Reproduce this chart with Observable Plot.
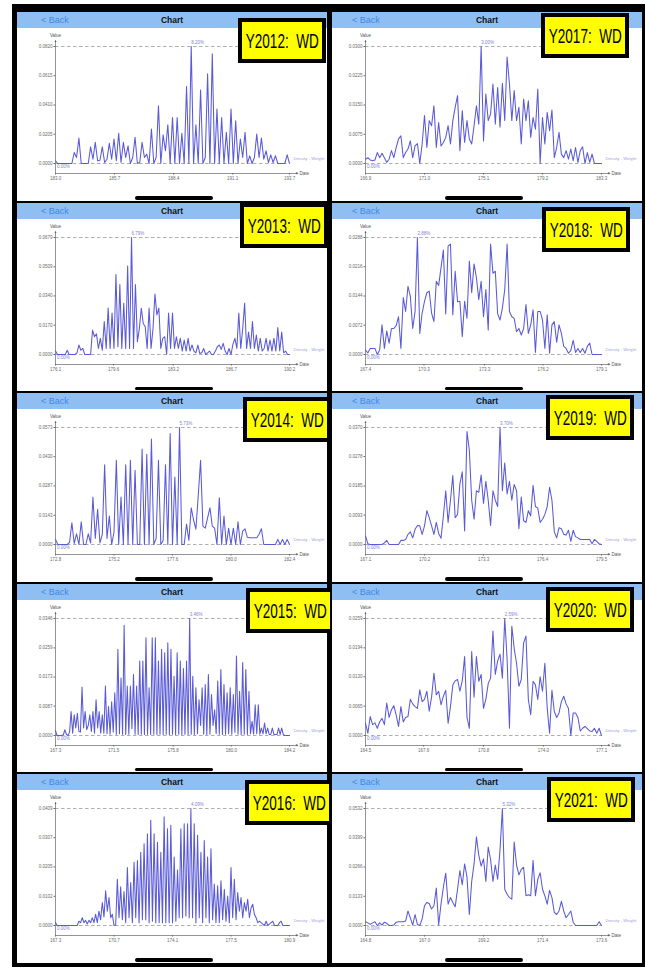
<!DOCTYPE html>
<html><head><meta charset="utf-8">
<script src="https://cdn.jsdelivr.net/npm/d3@7"></script>
<script src="https://cdn.jsdelivr.net/npm/@observablehq/plot@0.6"></script>
<style>
html,body{margin:0;padding:0;background:#fff;}
body{width:646px;height:971px;position:relative;overflow:hidden;font-family:"Liberation Sans",Arial,sans-serif;}
#frame{position:absolute;left:12px;top:4px;width:633px;height:963px;background:#000;}
.panel{position:absolute;width:310px;height:188.5px;background:#fff;overflow:hidden;}
.hdr{position:absolute;left:0;top:0;width:100%;height:16px;background:#8fbff2;}
.back{position:absolute;top:0;line-height:17px;font-size:9px;color:#3f88e8;}
.title{position:absolute;left:0;width:100%;top:0;line-height:17px;text-align:center;font-size:8.5px;font-weight:bold;color:#111;}
.home{position:absolute;top:184px;width:78px;height:3.5px;border-radius:2px;background:#000;}
.tag{position:absolute;width:88px;height:45px;box-sizing:border-box;border:4px solid #000;background:#ffff00;display:flex;align-items:center;justify-content:center;}
.tag span{font-size:20.5px;white-space:pre;transform:scaleX(0.66);color:#000;}
.chart{position:absolute;left:0;top:16px;}
</style></head>
<body>
<div id="frame"></div>
<script>
// ---------------- data ----------------
const years = [2012,2013,2014,2015,2016,2017,2018,2019,2020,2021];
const xTickLabels = [
 ["183.0","185.7","188.4","191.1","193.7"],
 ["176.1","179.6","183.2","186.7","190.2"],
 ["172.8","175.2","177.6","180.0","182.4"],
 ["167.3","171.5","175.8","180.0","184.2"],
 ["167.3","170.7","174.1","177.5","180.9"],
 ["166.9","171.0","175.1","179.2","183.3"],
 ["167.4","170.3","173.3","176.2","179.1"],
 ["167.1","170.2","173.3","176.4","179.5"],
 ["164.5","167.6","170.8","174.0","177.1"],
 ["164.8","167.0","169.2","171.4","173.6"]];
const yTickLabels = [
 ["0.0000","0.0205","0.0410","0.0615","0.0820"],
 ["0.0000","0.0170","0.0340","0.0509","0.0679"],
 ["0.0000","0.0143","0.0287","0.0430","0.0573"],
 ["0.0000","0.0087","0.0173","0.0259","0.0346"],
 ["0.0000","0.0102","0.0205","0.0307","0.0409"],
 ["0.0000","0.0075","0.0150","0.0225","0.0300"],
 ["0.0000","0.0072","0.0144","0.0216","0.0288"],
 ["0.0000","0.0093","0.0185","0.0278","0.0370"],
 ["0.0000","0.0065","0.0130","0.0194","0.0259"],
 ["0.0000","0.0133","0.0266","0.0399","0.0532"]];
const peakLabels = ["8.20%","6.79%","5.73%","3.46%","4.09%","3.00%","2.88%","3.70%","2.59%","5.32%"];

// density in percent, evenly spaced weight samples from first to last tick
const density2012 = [0.19,0,0,0,0,0,0,0,0.77,0.42,1.78,0,0,0,0,1.17,0.3,1.48,0.19,0.23,1.17,0.07,0.3,1.41,0.3,1.71,0.19,2.11,0.07,1.48,0.42,1.24,0,0.42,1.83,0,0.07,1.48,0.42,0.66,0,2.41,0,0.42,4.05,0,2.01,0.89,2.72,0,3.23,0,3.23,0,2.11,0,5.39,0,8.20,0,2.72,0,5.15,0,0.42,6.28,0,7.69,0,3.82,0,3.23,0,2.18,0,3.82,0,3.0,0,1.71,0.42,2.18,0,0.54,0,0.42,2.06,0.42,1.78,0.3,0.89,0.07,0.61,0.07,0.54,0,0,0,0,0.61,0];
const density2013 = [0.2,0,0,0,0,0,0.25,0,0,0,0,0.1,0.55,0.25,0.35,0,0,0,0,1.42,1.03,1.2,0.35,0.94,0.25,1.91,0.35,2.69,0.35,2.4,0.35,4.64,0.45,4.06,0.35,2.98,0.35,5.13,0.35,6.79,0.35,4.06,0.74,1.5,2.69,1.8,1.62,0.35,2.69,0.35,1.5,3.51,2.3,2.69,0.35,0.94,1.03,0,2.4,0.35,2.4,0.35,1.03,0.35,0.94,0.2,0.84,0.2,0.94,0.2,0.55,0.2,0.1,0.55,0.06,0.1,0.35,0,0.1,0.2,0,0,0.2,0.45,0.55,0.3,0.65,0.2,0,0.35,0,0.6,0.94,0.35,2.4,0.35,1.5,2.98,0.35,1.3,0.35,1.91,0.35,1.13,0.2,0.94,0.2,0.35,0.94,0.2,0.84,0.2,0.94,0.2,1.56,0.2,1.3,0.1,0.2,0,0];
const density2014 = [0.25,0,0,0,0,0,0.1,1.06,0.05,0.52,0,1.11,0,0,0.52,0.08,2.32,0.3,1.72,0.08,0.5,3.9,0.3,1.39,0,0.6,4.12,0,2.32,0,3.9,0,4.12,0,3.63,0,0,4.67,0,4.42,0,5.16,0,0.3,4.12,0,0.2,3.9,0,5.43,0,3.31,0,5.73,0,0,1.0,0.2,1.8,1.2,0.75,2.4,4.12,0.9,0.8,1.3,1.8,0.9,0.8,0,2.29,0,1.39,0,0.8,0,0.8,0,1.11,0,0.65,0.77,0.35,0.33,0.33,0.33,0.33,0.5,0.77,0,0,0,0,0,0,0.25,0,0.25,0,0.25,0];
const density2015 = [0.14,0,0,0,0,0.02,0.17,0.03,0,0.1,0.71,0.07,0.61,0.22,0.66,0.12,0.1,1.43,0.22,0.71,0.17,0.3,0.61,0.12,0.71,0.07,1.06,0.22,0.71,0.07,0.61,0.07,
 1.46,0.05,0.86,0.04,1.0,0.1,1.26,0.04,2.55,0.05,1.7,0.04,3.26,0.03,1.46,0.04,1.46,0.2,1.8,0.04,1.46,0.03,2.2,0.04,2.2,0.03,2.89,0.04,1.41,0.03,2.89,0.04,2.89,0.03,2.2,0.04,2.55,0.03,2.45,0.04,2.74,0.03,2.55,0.04,1.75,0.03,2.45,0.04,2.2,0.03,1.98,0.04,2.2,0.03,3.46,0.04,1.75,0.03,1.41,0.05,1.06,0.3,1.41,0.04,1.51,0.03,1.8,0.04,1.21,0.3,0.76,0.05,1.61,0.04,1.95,0.03,1.51,0.04,1.26,0.05,1.41,0.04,1.21,0.1,2.35,0.04,1.31,0.03,2.16,0.04,1.95,0.03,1.31,0.05,0.42,0.04,0.91,0.05,0.91,0.04,
 0.22,0.05,0.37,0.05,0.22,0.03,0.03,0.22,0.03,0.03,0.03,0.22,0.03,0.22,0.03,0,0,0,0];
const density2016 = [0.1,0,0,0,0,0,0,0,0,0,0,0,0,0,0.15,0.1,0.27,0.1,0.18,0.05,0.18,0.1,0.27,0.1,0.39,0.1,0.5,0.2,0.8,0.3,1.21,0.5,0.98,0.27,0.39,0,0.02,1.62,0.27,1.35,0.2,1.19,0.1,2.03,0.27,1.5,0.1,2.21,0.27,2.27,0.1,2.56,0.2,2.86,0.2,3.21,0.1,3.68,0.15,3.21,0.1,2.91,0.1,2.56,0.1,3.8,0.1,3.38,0.1,3.5,0.1,2.39,0.15,1.94,0.27,3.38,0.27,3.56,0.33,3.56,0.27,4.09,0.27,3.56,0.1,3.15,0.27,2.56,0.1,2.97,0.27,2.39,0.1,2.68,0.2,1.45,0.1,1.39,0.1,1.56,0.2,1.27,0.15,1.03,0.1,2.03,0.27,1.62,0.2,1.15,0.5,0.98,0.27,0.8,0.5,0.92,0.27,0.62,0.74,0.39,0.27,0.1,0.15,0.1,0.05,0,0.15,0,0.05,0.1,0.15,0,0,0,0.1,0.15,0,0,0,0,0];
const density2017 = [0.11,0.15,0.09,0.07,0.09,0.28,0.15,0.26,0.15,0.03,0.11,0.33,0.15,0.41,0.63,0.71,0.15,0.28,0.37,0.58,0.15,0.45,0.51,0,0.5,1.23,0.41,1.1,0.97,1.48,0.41,1.05,0.45,0.54,0.67,0.97,0.5,1.1,1.44,1.74,0.33,1.35,0.54,1.1,0.63,0.5,0.97,1.48,1.01,3.0,0.58,1.78,1.1,1.27,2.04,1.01,1.95,0.93,2.06,1.1,2.73,2.04,1.1,1.87,1.1,1.44,0.5,1.65,1.1,1.61,0.67,1.18,0.88,1.91,0,1.18,0.5,1.31,0.84,1.37,0.15,0.41,0.8,0.24,0.15,0.33,0.11,0.37,0.07,0.41,0.03,0.33,0.43,0,0.28,0.03,0.24,0,0,0,0];
const density2018 = [0.11,0.04,0.15,0.15,0.15,0,0.11,0.73,0.15,0.58,0.28,0.64,0.64,0.71,0.93,0.15,1.4,1.06,1.68,1.43,0.64,1.06,2.88,0.52,1.02,1.31,1.52,1.56,1.02,0.81,1.8,1.7,2.14,2.57,1.0,2.67,2.72,0.98,2.05,1.3,1.31,0.44,1.31,0.89,2.3,1.52,2.23,1.89,1.35,1.8,0.93,1.6,0.6,2.72,2.0,2.05,1.0,0.85,1.14,1.6,2.72,1.06,0.93,0.89,0.56,0.64,0.48,0.64,1.23,0.52,0.73,1.1,0.05,1.06,1.06,0.85,0.15,0.98,0.03,0.73,0.81,0.3,0.73,0.52,0.2,0.15,0.03,0.1,0.35,0.05,0.15,0.05,0.15,0.03,0.2,0.28,0,0,0,0,0];
const density2019 = [0.27,0.02,0,0,0,0,0,0,0.05,0.13,0,0,0,0,0,0.13,0.13,0.16,0.32,0.4,0.21,0.48,0.6,0.59,0.32,0.59,1.07,0.85,0.59,0.32,0.7,0.35,0.2,0.9,1.7,0.7,1.4,2.18,0.85,0.95,1.92,2.3,0.43,3.57,2.98,1.4,0.8,1.7,1.65,2.2,1.3,2.0,1.4,0.6,1.7,1.4,1.2,3.7,1.7,2.58,1.6,2.0,1.4,1.9,1.7,0.5,1.5,0.75,0.7,1.07,0.9,1.87,1.2,1.15,0.7,0.8,0.95,1.2,1.81,1.4,0.4,0.21,0.53,0.5,0.32,0.3,0.45,0.1,0.45,0.25,0.21,0.16,0.16,0.16,0.16,0.16,0.02,0.16,0.1,0.02,0];
const density2020 = [0.27,0.05,0.42,0.24,0.28,0.16,0.3,0.38,0.24,0.72,0.4,0.57,0.66,0.45,0.2,0.64,0.3,0.4,0.42,0.8,0.7,0.64,0.6,1.01,0.75,0.8,0.98,0.54,0.85,1.38,0.9,0.98,0.68,0.87,1.0,0.27,0.64,1.12,1.21,1.24,0.98,1.21,1.75,0.4,0.16,1.86,0.85,1.75,1.2,1.35,0.6,0.8,1.15,1.27,2.31,1.35,1.65,1.8,1.27,2.59,1.7,0.16,2.42,1.93,1.6,1.09,1.24,2.05,2.2,0.8,0.46,1.2,1.12,0.8,1.3,0.98,1.6,0.6,0.05,1.0,0.53,0.4,0.5,0.75,0.87,0.7,0.6,0,0.5,0.5,0.4,0.1,0.16,0.2,0.15,0.1,0.09,0.16,0.05,0.16,0];
const density2021 = [0.17,0.12,0.05,0.12,0.17,0,0.12,0.02,0.15,0.1,0,0,0.02,0.15,0.17,0.17,0.17,0.2,0.66,0.35,0.02,0.5,0.05,0,0.3,0.9,1.05,1.0,0.75,0.9,1.7,0.02,0.97,1.75,2.38,0.97,1.27,1.05,0.85,1.65,2.5,1.85,2.8,2.2,0.5,2.0,2.8,4.03,3.2,2.7,3.03,2.0,3.57,3.0,2.0,2.75,2.1,3.45,5.32,1.65,1.42,1.27,1.2,3.8,2.75,2.3,2.55,2.65,1.35,1.4,1.35,2.96,1.35,2.1,2.4,1.65,1.35,0.97,1.6,1.27,0.6,0.5,0.66,1.1,0.66,0.35,0.5,0.66,0.15,0,0,0,0,0,0,0,0,0,0,0.17,0];
const densities = [density2012,density2013,density2014,density2015,density2016,density2017,density2018,density2019,density2020,density2021];

// ---------------- layout ----------------
const colLeft = [17, 332];
const rowTop = [12, 202.5, 393, 583.5, 774];
const tagPos = [[238,18],[240,203],[243,397],[246,588],[245,780],[541,13],[542,207],[546,395],[546,587],[547,777]];

function chart(k, col) {
  const dens = densities[k];
  const xv = xTickLabels[k].map(Number), yv = yTickLabels[k].map(Number);
  const xm = new Map(xv.map((v,i)=>[v, xTickLabels[k][i]]));
  const ym = new Map(yv.map((v,i)=>[v, yTickLabels[k][i]]));
  const x0 = xv[0], x1 = xv[xv.length-1], ymax = yv[yv.length-1];
  const n = dens.length;
  const data = dens.map((d,i)=>({w: x0 + i*(x1-x0)/(n-1), v: d/100}));
  const ml = col ? 33 : 38, mr = col ? 41 : 38;
  const pw = 310 - ml - mr;
  const xArrow = x1 + (x1-x0)*7/pw;
  const yLow = -ymax*10/117, yTop = ymax*1.05;
  const peak = data.reduce((a,b)=> b.v>a.v?b:a);
  const purple = "#7f7fdc";
  return Plot.plot({
    width: 310, height: 160,
    marginLeft: ml, marginRight: mr, marginTop: 18, marginBottom: 15,
    x: {domain: [x0, x1]}, y: {domain: [yLow, ymax]},
    style: {background: "transparent", overflow: "visible", fontFamily: "Liberation Sans, Arial, sans-serif", color: "#6a6a6a"},
    marks: [
      Plot.ruleY([ymax, 0], {x1: () => x0, x2: () => x1, stroke: "#9b9b9b", strokeWidth: 0.8, strokeDasharray: "3.5,2.5"}),
      Plot.ruleX([x0], {y1: () => yLow, y2: () => yTop, stroke: "#666", strokeWidth: 0.7}),
      Plot.ruleY([yLow], {x1: () => x0, x2: () => xArrow, stroke: "#666", strokeWidth: 0.7}),
      Plot.axisX({ticks: xv, tickFormat: d => xm.get(d), tickSize: 1.5, tickPadding: 1.5, fontSize: 4.5, label: null}),
      Plot.axisY({ticks: yv, tickFormat: d => ym.get(d), tickSize: 1.5, tickPadding: 1.5, fontSize: 4.5, label: null}),
      Plot.line(data, {x: "w", y: "v", stroke: "#5a5ad8", strokeWidth: 1.05}),
      Plot.text(["Value"], {x: () => x0, y: () => yTop, dy: -5, fontSize: 4.5, fill: "#555"}),
      Plot.text(["▲"], {x: () => x0, y: () => yTop, dy: 0.5, fontSize: 3, fill: "#555"}),
      Plot.text(["▶"], {x: () => xArrow, y: () => yLow, dx: 0.5, fontSize: 3, fill: "#555"}),
      Plot.text(["Date"], {x: () => xArrow, y: () => yLow, dx: 3, textAnchor: "start", fontSize: 4.5, fill: "#555"}),
      Plot.text(["Density - Weight"], {x: () => x1, y: () => 0, dx: 4, dy: -5, textAnchor: "start", fontSize: 4.2, fill: "#a0a0e6"}),
      Plot.text(["0.00%"], {x: () => x0, y: () => 0, dx: 1.5, dy: 3.5, textAnchor: "start", fontSize: 4.5, fill: purple}),
      Plot.text([peakLabels[k]], {x: () => peak.w, y: () => ymax, dy: -4, textAnchor: "start", fontSize: 4.5, fill: purple})
    ]
  });
}

years.forEach((yr, k) => {
  const col = k < 5 ? 0 : 1, row = k % 5;
  const p = document.createElement("div");
  p.className = "panel";
  p.style.left = colLeft[col] + "px";
  p.style.top = rowTop[row] + "px";
  p.innerHTML = `<div class="hdr"></div><div class="back" style="left:${col?20:24}px">&lt; Back</div><div class="title">Chart</div><div class="home" style="left:${col?113:118}px"></div>`;
  const c = document.createElement("div");
  c.className = "chart";
  c.appendChild(chart(k, col));
  p.appendChild(c);
  document.body.appendChild(p);
  const t = document.createElement("div");
  t.className = "tag";
  t.style.left = tagPos[k][0] + "px";
  t.style.top = tagPos[k][1] + "px";
  t.innerHTML = `<span>Y${yr}:  WD</span>`;
  document.body.appendChild(t);
});
</script>
</body></html>
